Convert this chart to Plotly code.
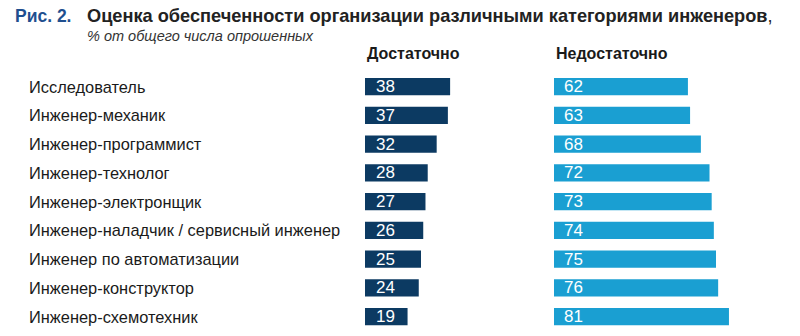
import plotly.graph_objects as go

categories = [
    "Исследователь",
    "Инженер-механик",
    "Инженер-программист",
    "Инженер-технолог",
    "Инженер-электронщик",
    "Инженер-наладчик / сервисный инженер",
    "Инженер по автоматизации",
    "Инженер-конструктор",
    "Инженер-схемотехник",
]
enough = [38, 37, 32, 28, 27, 26, 25, 24, 19]
not_enough = [62, 63, 68, 72, 73, 74, 75, 76, 81]
series_names = ["Достаточно", "Недостаточно"]

NAVY = "#0c3a62"
LIGHT = "#1a9fd2"
FONT = "Liberation Sans, Arial, sans-serif"

W, H = 800, 336
idx = list(range(len(categories)))

fig = go.Figure()
fig.add_trace(go.Bar(x=enough, y=idx, orientation="h", marker=dict(color=NAVY, line=dict(width=0)),
                     width=0.6, xaxis="x", yaxis="y", hoverinfo="x+y", showlegend=False))
fig.add_trace(go.Bar(x=not_enough, y=idx, orientation="h", marker=dict(color=LIGHT, line=dict(width=0)),
                     width=0.6, xaxis="x2", yaxis="y", hoverinfo="x+y", showlegend=False))

# axis geometry (pixels)
x1_start, x1_scale = 365, 2.24
x2_start, x2_scale = 554, 2.16
y0_px, row_px = 86.5, 28.75

annotations = []
for i, (c, a, b) in enumerate(zip(categories, enough, not_enough)):
    annotations.append(dict(x=27 / W, xref="paper", y=i, yref="y", text=c, showarrow=False,
                            xanchor="left", yanchor="middle", font=dict(family=FONT, size=16.4, color="#1a1a1a")))
    annotations.append(dict(x=0, xref="x", y=i, yref="y", text=str(a), showarrow=False, xshift=9,
                            xanchor="left", yanchor="middle", font=dict(family=FONT, size=17, color="white")))
    annotations.append(dict(x=0, xref="x2", y=i, yref="y", text=str(b), showarrow=False, xshift=8,
                            xanchor="left", yanchor="middle", font=dict(family=FONT, size=17, color="white")))

annotations += [
    dict(x=0, xref="x", y=-1.15, yref="y", text="<b>" + series_names[0] + "</b>", showarrow=False,
         xanchor="left", yanchor="middle", font=dict(family=FONT, size=16, color="#1a1a1a")),
    dict(x=0, xref="x2", y=-1.15, yref="y", text="<b>" + series_names[1] + "</b>", showarrow=False,
         xanchor="left", yanchor="middle", font=dict(family=FONT, size=16, color="#1a1a1a")),
    dict(x=13 / W, xref="paper", y=1 - 16 / H, yref="paper", text="<b>Рис. 2.</b>", showarrow=False,
         xanchor="left", yanchor="middle", font=dict(family=FONT, size=17.5, color="#1f4f8f")),
    dict(x=85 / W, xref="paper", y=1 - 16 / H, yref="paper",
         text="<b>Оценка обеспеченности организации различными категориями инженеров</b>,", showarrow=False,
         xanchor="left", yanchor="middle", font=dict(family=FONT, size=18.2, color="#222222")),
    dict(x=85 / W, xref="paper", y=1 - 36 / H, yref="paper", text="<i>% от общего числа опрошенных</i>",
         showarrow=False, xanchor="left", yanchor="middle", font=dict(family=FONT, size=14.5, color="#333333")),
]

fig.update_layout(
    width=W, height=H,
    margin=dict(l=0, r=0, t=0, b=0),
    paper_bgcolor="white", plot_bgcolor="white",
    barmode="overlay",
    xaxis=dict(domain=[0, 1], range=[-x1_start / x1_scale, (W - x1_start) / x1_scale], visible=False, fixedrange=True),
    xaxis2=dict(domain=[0, 1], overlaying="x", range=[-x2_start / x2_scale, (W - x2_start) / x2_scale],
                visible=False, fixedrange=True),
    yaxis=dict(range=[(H - y0_px) / row_px, -y0_px / row_px], visible=False, fixedrange=True),
    annotations=annotations,
    showlegend=False,
)

fig.write_html("out.html")
